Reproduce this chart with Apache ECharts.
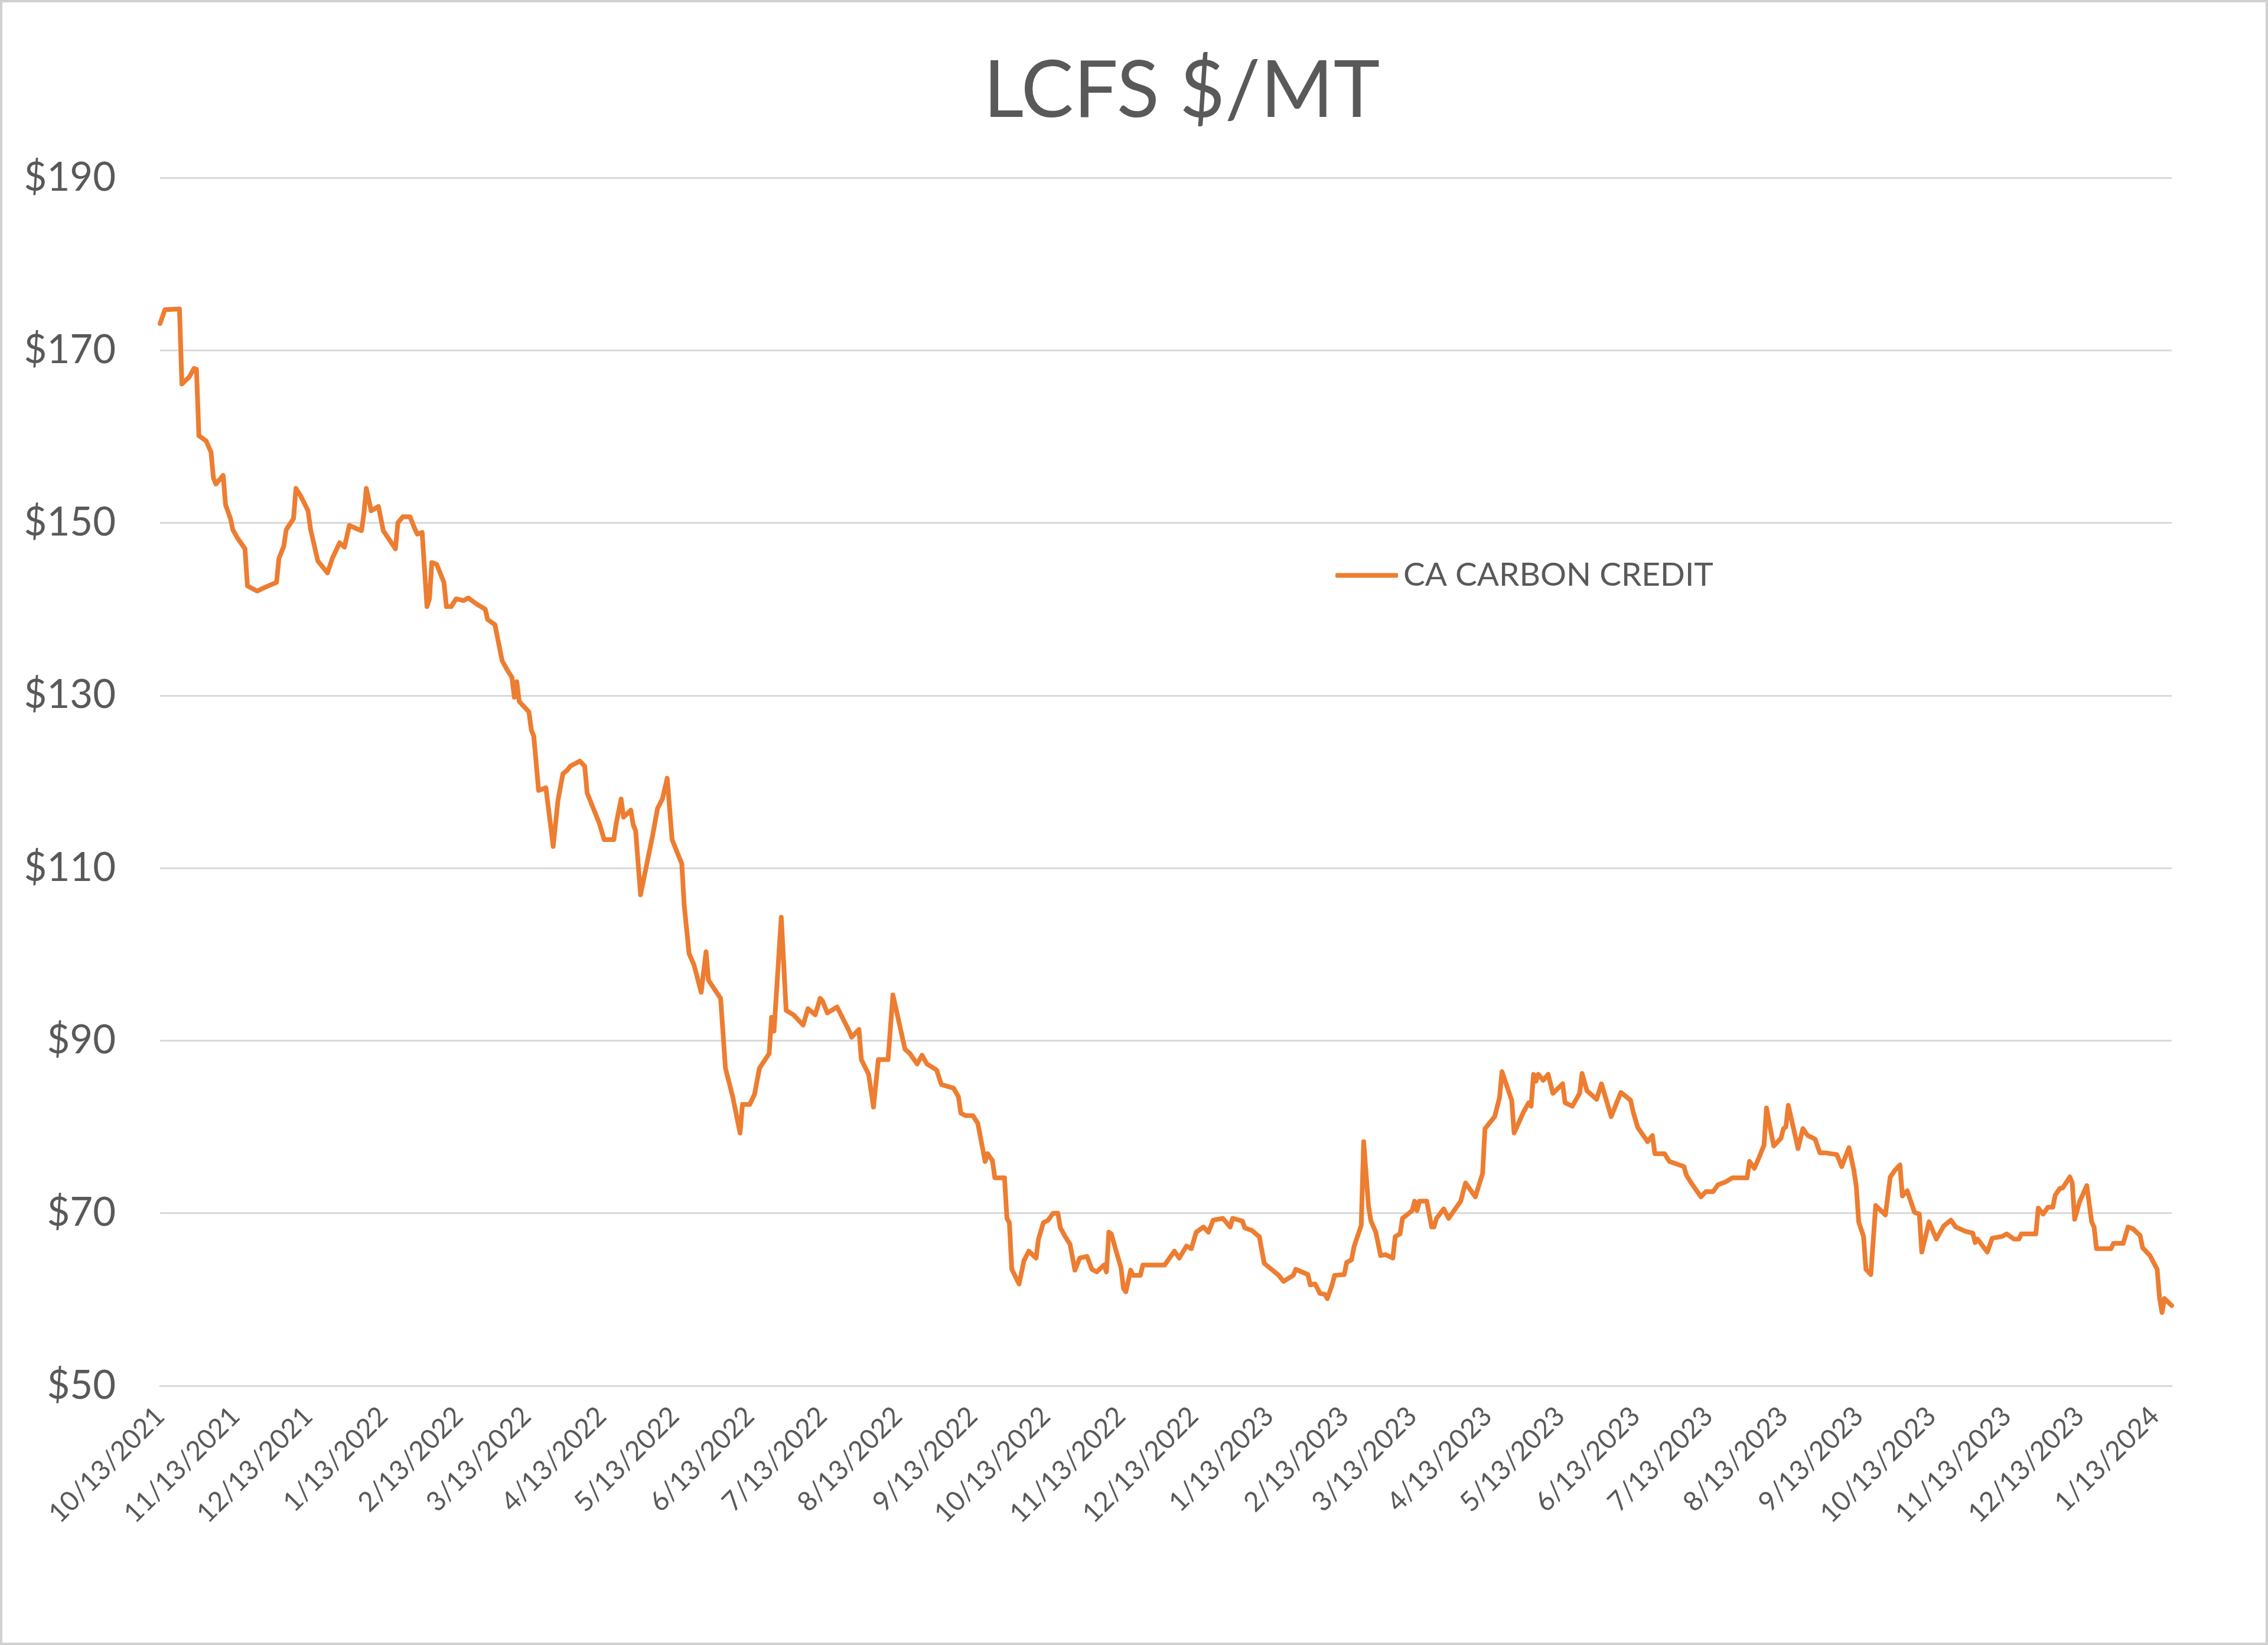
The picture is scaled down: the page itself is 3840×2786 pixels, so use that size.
<!DOCTYPE html>
<html>
<head>
<meta charset="utf-8">
<script src="https://cdn.jsdelivr.net/npm/echarts@6/dist/echarts.min.js"></script>
<style>
  html, body { margin: 0; padding: 0; background: #ffffff; }
  #wrap { position: relative; width: 3840px; height: 2786px; }
  #main { position: absolute; left: 0; top: 0; width: 3840px; height: 2786px; }
  #frame { position: absolute; left: 0; top: 0; width: 3840px; height: 2786px; box-sizing: border-box; border: 4px solid #d0d0d0; pointer-events: none; }
</style>
</head>
<body>
<div id="wrap"><div id="main"></div><div id="frame"></div></div>
<script>
// ---- data ----
const startDate = '10/13/2021';
const endDate = '1/20/2024';
const tickLabels = ['10/13/2021','11/13/2021','12/13/2021','1/13/2022','2/13/2022','3/13/2022','4/13/2022','5/13/2022','6/13/2022','7/13/2022','8/13/2022','9/13/2022','10/13/2022','11/13/2022','12/13/2022','1/13/2023','2/13/2023','3/13/2023','4/13/2023','5/13/2023','6/13/2023','7/13/2023','8/13/2023','9/13/2023','10/13/2023','11/13/2023','12/13/2023','1/13/2024'];
const yTicks = [50, 70, 90, 110, 130, 150, 170, 190];
const seriesName = 'CA CARBON CREDIT';

const priceDates = [
'10/13/2021','10/15/2021','10/21/2021','10/22/2021','10/25/2021','10/27/2021','10/28/2021','10/29/2021',
'11/1/2021','11/3/2021','11/4/2021','11/5/2021','11/8/2021','11/9/2021','11/11/2021','11/12/2021','11/14/2021','11/17/2021','11/18/2021','11/22/2021','11/25/2021','11/30/2021',
'12/1/2021','12/3/2021','12/4/2021','12/7/2021','12/8/2021','12/10/2021','12/13/2021','12/14/2021','12/17/2021','12/21/2021','12/23/2021','12/26/2021','12/28/2021','12/30/2021',
'1/4/2022','1/5/2022','1/6/2022','1/8/2022','1/11/2022','1/13/2022','1/18/2022','1/19/2022','1/21/2022','1/24/2022','1/26/2022','1/27/2022','1/29/2022','1/31/2022',
'2/1/2022','2/2/2022','2/4/2022','2/7/2022','2/8/2022','2/10/2022','2/12/2022','2/15/2022','2/17/2022','2/21/2022','2/24/2022','2/25/2022','2/28/2022',
'3/1/2022','3/3/2022','3/5/2022','3/7/2022','3/8/2022','3/9/2022','3/10/2022','3/14/2022','3/15/2022','3/16/2022','3/18/2022','3/21/2022','3/24/2022','3/26/2022','3/28/2022','3/30/2022','3/31/2022',
'4/4/2022','4/6/2022','4/7/2022','4/12/2022','4/14/2022','4/18/2022','4/19/2022','4/21/2022','4/22/2022','4/25/2022','4/26/2022','4/27/2022','4/29/2022',
'5/4/2022','5/6/2022','5/8/2022','5/10/2022','5/12/2022','5/16/2022','5/17/2022','5/19/2022','5/21/2022','5/24/2022','5/26/2022','5/27/2022',
'6/1/2022','6/3/2022','6/6/2022','6/9/2022','6/10/2022','6/13/2022','6/15/2022','6/17/2022','6/21/2022','6/22/2022','6/23/2022','6/26/2022','6/28/2022',
'7/1/2022','7/5/2022','7/7/2022','7/10/2022','7/12/2022','7/13/2022','7/15/2022','7/19/2022','7/24/2022','7/25/2022','7/28/2022','7/29/2022',
'8/1/2022','8/3/2022','8/5/2022','8/9/2022','8/11/2022','8/16/2022','8/18/2022','8/21/2022','8/23/2022','8/25/2022','8/29/2022','8/31/2022',
'9/5/2022','9/7/2022','9/8/2022','9/10/2022','9/13/2022','9/15/2022','9/18/2022','9/19/2022','9/21/2022','9/22/2022','9/26/2022','9/27/2022','9/28/2022','9/29/2022',
'10/2/2022','10/4/2022','10/6/2022','10/9/2022','10/10/2022','10/12/2022','10/14/2022','10/16/2022','10/18/2022','10/19/2022','10/21/2022','10/23/2022','10/25/2022','10/27/2022','10/30/2022',
'11/1/2022','11/3/2022','11/6/2022','11/7/2022','11/8/2022','11/9/2022','11/11/2022','11/13/2022','11/14/2022','11/15/2022','11/17/2022','11/18/2022','11/21/2022','11/22/2022',
'12/1/2022','12/5/2022','12/7/2022','12/10/2022','12/12/2022','12/14/2022','12/17/2022','12/19/2022','12/21/2022','12/25/2022','12/28/2022','12/29/2022',
'1/2/2023','1/3/2023','1/6/2023','1/8/2023','1/9/2023','1/11/2023','1/14/2023','1/17/2023','1/19/2023','1/23/2023','1/24/2023','1/29/2023','1/30/2023',
'2/1/2023','2/3/2023','2/5/2023','2/6/2023','2/8/2023','2/9/2023','2/13/2023','2/14/2023','2/16/2023','2/17/2023','2/20/2023','2/21/2023','2/23/2023','2/24/2023','2/26/2023','2/28/2023',
'3/2/2023','3/5/2023','3/6/2023','3/8/2023','3/9/2023','3/13/2023','3/14/2023','3/15/2023','3/16/2023','3/19/2023','3/21/2023','3/22/2023','3/23/2023','3/26/2023','3/28/2023','3/30/2023',
'4/2/2023','4/3/2023','4/4/2023','4/6/2023','4/8/2023','4/11/2023','4/12/2023','4/16/2023','4/18/2023','4/19/2023','4/23/2023','4/24/2023','4/28/2023','4/30/2023',
'5/1/2023','5/2/2023','5/3/2023','5/4/2023','5/6/2023','5/8/2023','5/10/2023','5/14/2023','5/15/2023','5/18/2023','5/21/2023','5/22/2023','5/24/2023','5/28/2023','5/30/2023',
'6/3/2023','6/7/2023','6/11/2023','6/12/2023','6/14/2023','6/18/2023','6/20/2023','6/21/2023','6/25/2023','6/27/2023',
'7/3/2023','7/4/2023','7/6/2023','7/10/2023','7/12/2023','7/15/2023','7/17/2023','7/20/2023','7/23/2023','7/29/2023','7/30/2023',
'8/1/2023','8/3/2023','8/5/2023','8/6/2023','8/8/2023','8/9/2023','8/12/2023','8/13/2023','8/14/2023','8/15/2023','8/17/2023','8/19/2023','8/21/2023','8/23/2023','8/26/2023','8/28/2023','8/30/2023',
'9/4/2023','9/6/2023','9/9/2023','9/11/2023','9/12/2023','9/13/2023','9/15/2023','9/16/2023','9/18/2023','9/20/2023','9/24/2023','9/26/2023','9/28/2023','9/30/2023',
'10/1/2023','10/3/2023','10/6/2023','10/8/2023','10/9/2023','10/12/2023','10/15/2023','10/18/2023','10/21/2023','10/23/2023','10/27/2023','10/30/2023','10/31/2023',
'11/1/2023','11/5/2023','11/7/2023','11/11/2023','11/13/2023','11/16/2023','11/18/2023','11/19/2023','11/25/2023','11/26/2023','11/28/2023','11/30/2023',
'12/2/2023','12/3/2023','12/5/2023','12/6/2023','12/9/2023','12/10/2023','12/11/2023','12/13/2023','12/16/2023','12/18/2023','12/19/2023','12/20/2023','12/26/2023','12/27/2023','12/31/2023',
'1/2/2024','1/4/2024','1/7/2024','1/8/2024','1/11/2024','1/14/2024','1/15/2024','1/16/2024','1/17/2024','1/20/2024'
];

const priceValues = [
173.1,174.7,174.8,166.1,166.9,167.9,167.8,160.1,
159.5,158.2,155.2,154.5,155.5,152.1,150.5,149.2,148.2,147.0,142.7,142.1,142.5,143.1,
145.9,147.3,149.2,150.5,154.0,153.1,151.4,149.3,145.6,144.2,145.9,147.7,147.2,149.7,
149.1,151.1,154.0,151.4,151.9,149.1,147.0,150.0,150.7,150.7,149.3,148.7,148.9,140.3,
141.2,145.4,145.2,143.1,140.3,140.3,141.2,141.0,141.3,140.5,140.0,138.8,138.2,
136.8,134.0,133.0,132.1,129.8,131.6,129.3,128.1,126.0,125.3,119.0,119.3,112.5,117.9,120.9,121.4,121.8,
122.4,121.8,118.7,115.2,113.3,113.3,115.2,118.0,115.9,116.7,115.0,114.3,106.9,
113.8,116.9,118.0,120.4,113.3,110.5,105.7,100.1,98.8,95.6,100.3,97.0,
94.9,86.8,83.5,79.3,82.6,82.6,83.8,86.8,88.5,92.7,91.1,104.3,93.5,
93.0,91.8,93.7,93.0,94.9,94.6,93.2,93.9,91.1,90.4,91.3,87.8,
86.1,82.3,87.8,87.8,95.3,89.0,88.5,87.3,88.3,87.3,86.6,84.9,
84.5,83.5,81.6,81.3,81.3,80.4,76.0,76.9,76.1,74.1,74.1,69.4,68.9,63.5,
61.8,64.5,65.6,64.8,67.0,68.9,69.2,70.0,70.0,68.3,67.3,66.4,63.4,64.8,65.0,
63.5,63.2,64.0,63.2,67.8,67.6,65.6,63.7,61.3,60.9,63.4,62.8,62.8,64.0,
64.0,65.6,64.8,66.2,65.9,67.8,68.4,67.8,69.2,69.4,68.4,69.4,
69.1,68.3,68.0,67.5,67.3,64.2,63.5,62.8,62.1,62.8,63.5,62.9,61.7,
61.8,60.7,60.6,60.1,61.7,62.8,62.9,64.3,64.6,66.1,68.6,78.3,70.8,69.1,67.8,65.1,
65.2,64.8,67.3,67.6,69.4,70.3,71.4,70.3,71.4,71.4,68.4,68.4,69.4,70.5,69.4,70.2,
71.4,72.5,73.5,72.7,71.9,74.6,79.8,81.2,83.4,86.4,83.1,79.3,81.8,82.8,
82.4,86.1,85.3,86.1,85.4,86.1,83.9,85.0,82.8,82.4,83.9,86.2,84.2,83.2,85.0,
81.2,84.0,83.1,81.8,79.9,78.3,79.0,76.9,76.9,76.0,
75.4,74.4,73.5,71.9,72.5,72.5,73.3,73.6,74.1,74.1,76.0,
75.2,76.5,77.9,82.2,79.2,77.8,78.7,79.8,80.0,82.5,80.0,77.5,79.8,79.0,78.6,77.0,77.0,
76.8,75.4,77.6,75.0,73.1,69.0,67.3,63.5,62.9,70.9,69.8,74.2,75.0,75.6,
72.0,72.6,70.1,69.9,65.5,69.0,67.0,68.5,69.2,68.4,67.9,67.7,66.6,
67.0,65.5,67.1,67.3,67.6,67.0,67.0,67.6,67.6,70.6,69.9,70.7,
70.7,72.1,72.9,72.9,74.2,73.5,69.3,71.3,73.2,69.0,68.4,65.9,65.9,66.5,66.5,
68.4,68.2,67.4,66.0,65.1,63.5,60.1,58.5,60.1,59.3
];

// ---- build the daily category list (date axis) ----
function parseMDY(s) { const p = s.split('/').map(Number); return Date.UTC(p[2], p[0] - 1, p[1]); }
function fmtMDY(t) { const d = new Date(t); return (d.getUTCMonth() + 1) + '/' + d.getUTCDate() + '/' + d.getUTCFullYear(); }
const categories = [];
for (let t = parseMDY(startDate); t <= parseMDY(endDate); t += 86400000) categories.push(fmtMDY(t));
const catIndex = {};
categories.forEach((c, i) => { catIndex[c] = i; });
const tickSet = new Set(tickLabels);
const seriesData = priceDates.map((d, i) => [catIndex[d], priceValues[i]]);

const FONT = 'Lato';
const GREY = '#595959';

const chart = echarts.init(document.getElementById('main'), null, { renderer: 'canvas' });
chart.setOption({
  backgroundColor: '#ffffff',
  animation: false,
  title: {
    text: 'LCFS $/MT',
    left: 1660,
    top: 84,
    textStyle: { fontFamily: FONT, fontSize: 133, fontWeight: 'normal', color: GREY }
  },
  legend: {
    data: [seriesName],
    left: 2256,
    top: 942,
    icon: 'roundRect',
    itemWidth: 106,
    itemHeight: 8,
    textStyle: { fontFamily: FONT, fontSize: 55, color: GREY, padding: [0, 0, 0, 4] }
  },
  grid: { left: 271, right: 163, top: 301, bottom: 439, containLabel: false },
  xAxis: {
    type: 'category',
    data: categories,
    boundaryGap: false,
    axisLine: { show: true, lineStyle: { color: '#d9d9d9', width: 3 } },
    axisTick: { show: false },
    splitLine: { show: false },
    axisLabel: {
      interval: (idx, val) => tickSet.has(val),
      rotate: 45,
      margin: 44,
      hideOverlap: false,
      fontFamily: FONT,
      fontSize: 46,
      color: GREY
    }
  },
  yAxis: {
    type: 'value',
    min: yTicks[0],
    max: yTicks[yTicks.length - 1],
    interval: 20,
    axisLine: { show: false },
    axisTick: { show: false },
    splitLine: { show: true, lineStyle: { color: '#d9d9d9', width: 3 } },
    axisLabel: {
      formatter: v => '$' + v,
      margin: 75,
      fontFamily: FONT,
      fontSize: 67,
      color: GREY
    }
  },
  series: [{
    name: seriesName,
    type: 'line',
    data: seriesData,
    showSymbol: false,
    symbol: 'none',
    smooth: false,
    itemStyle: { color: '#ED7D31' },
    lineStyle: { color: '#ED7D31', width: 8, join: 'round', cap: 'round' }
  }]
});
</script>
</body>
</html>
